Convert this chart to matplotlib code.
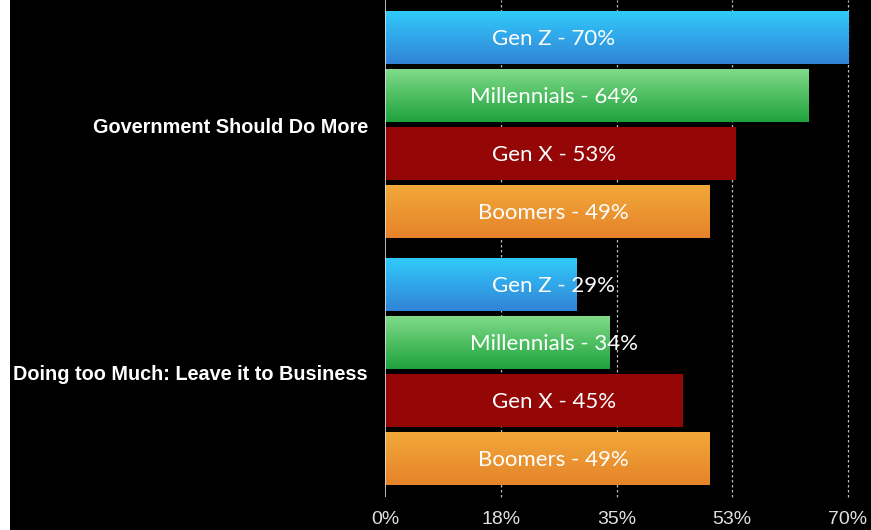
import matplotlib
matplotlib.use("Agg")
import matplotlib.pyplot as plt
import numpy as np
from matplotlib.colors import LinearSegmentedColormap

# ---- data ----
groups = ["Government Should Do More", "Doing too Much: Leave it to Business"]
generations = ["Gen Z", "Millennials", "Gen X", "Boomers"]
gov_more = [70, 64, 53, 49]
too_much = [29, 34, 45, 49]
tick_values = [0, 17.5, 35, 52.5, 70]
tick_labels = ["0%", "18%", "35%", "53%", "70%"]

# gradient colours (top, bottom) per generation
grad_colors = {
    "Gen Z": ("#30CCFC", "#3283D6"),
    "Millennials": ("#82DC8B", "#1EA23C"),
    "Gen X": ("#970707", "#940606"),
    "Boomers": ("#F2A93A", "#E5832A"),
}

W, H = 871, 530
fig = plt.figure(figsize=(W / 100, H / 100), dpi=100, facecolor="white")
# black panel (leaves a thin white strip at the left)
bg = fig.add_axes([10 / W, 0, 1 - 10 / W, 1], zorder=-5)
bg.set_facecolor("black")
bg.axis("off")
bg.add_patch(plt.Rectangle((0, 0), 1, 1, transform=bg.transAxes, color="black"))

ax = fig.add_axes([385 / W, 33 / H, (848 - 385) / W, (H - 33) / H], zorder=1)
ax.patch.set_alpha(0)

bar_h = 0.92
gap = 4.25
positions = []
values = []
names = []
for gi, vals in enumerate([gov_more, too_much]):
    for i, v in enumerate(vals):
        positions.append(gi * gap + i)
        values.append(v)
        names.append(generations[i])

grad = np.linspace(0, 1, 256).reshape(-1, 1)
for y, v, n in zip(positions, values, names):
    top, bot = grad_colors[n]
    cmap = LinearSegmentedColormap.from_list(n, [top, bot])
    bars = ax.barh([y], [v], height=bar_h, color="none", edgecolor="none")
    rect = bars.patches[0]
    im = ax.imshow(grad, cmap=cmap, aspect="auto",
                   extent=(0, v, y + bar_h / 2, y - bar_h / 2), zorder=2,
                   interpolation="bicubic")
    im.set_clip_path(rect)
    ax.text(25.5, y + 0.02, f"{n} - {v}%", color="white", ha="center", va="center",
            fontsize=16, family=["Lato", "DejaVu Sans"], zorder=4)

ax.set_ylim(7.25 + 0.66, -0.645)
ax.set_xlim(0, 70)

# gridlines
for t in tick_values[1:]:
    ax.axvline(t, color="#bbbbbb", linestyle=(0, (2, 2)), linewidth=0.9, zorder=1, clip_on=False)
ax.axvline(0, color="#dddddd", linewidth=1.2, zorder=3)

for s in ax.spines.values():
    s.set_visible(False)
ax.set_xticks(tick_values)
ax.set_xticklabels(tick_labels, color="#e0e0e0", fontsize=14,
                   family=["Liberation Sans", "DejaVu Sans"], fontweight="light")
ax.tick_params(axis="x", length=0, pad=10)
ax.set_yticks([])

# group labels
group_centers = [1.5, gap + 1.5]
for gname, yc in zip(groups, group_centers):
    ax.text(-17 / 6.614, yc + 0.05, gname, color="white", ha="right", va="center",
            fontsize=14.3, fontweight="bold", family=["Liberation Sans", "DejaVu Sans"])

fig.savefig("out.png", dpi=100, facecolor="white")
